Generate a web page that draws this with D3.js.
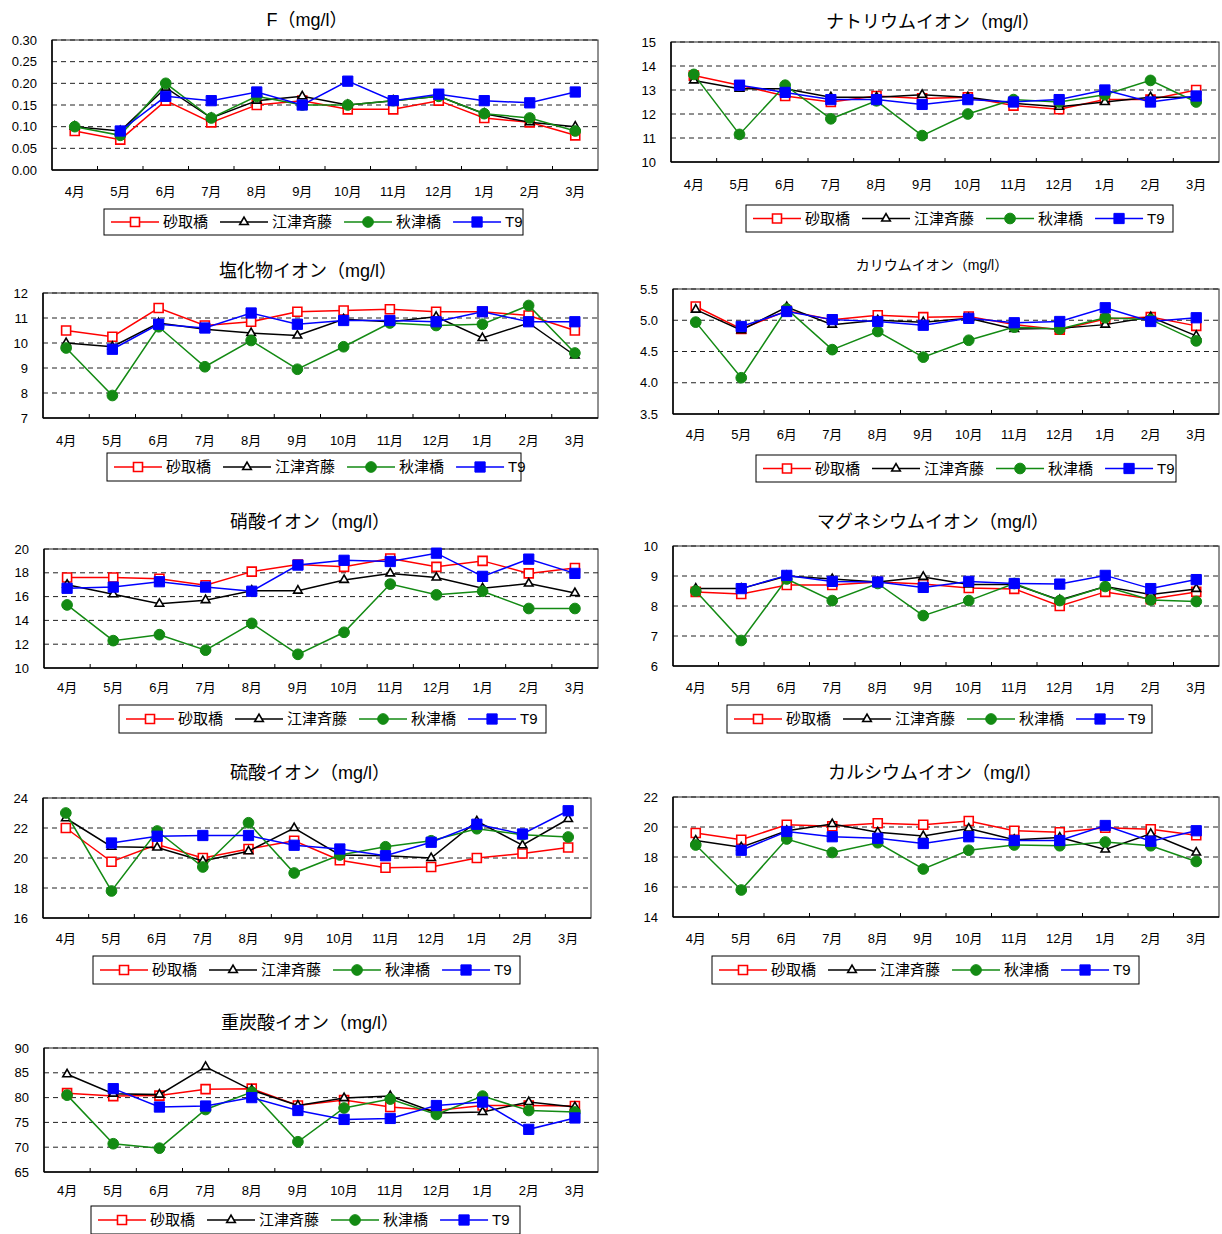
<!DOCTYPE html>
<html>
<head>
<meta charset="utf-8">
<script src="https://cdn.jsdelivr.net/npm/d3@7"></script>
<style>
body { margin: 0; background: #fff; }
text { font-family: "Liberation Sans", "Noto Sans CJK JP", sans-serif; fill: #000; }
</style>
</head>
<body>
<svg></svg>
<script>
let months = ["4月", "5月", "6月", "7月", "8月", "9月", "10月", "11月", "12月", "1月", "2月", "3月"]
let stations = ["砂取橋", "江津斉藤", "秋津橋", "T9"]

// values per panel, rows in station order
let fVals = [
    [0.09, 0.07, 0.16, 0.11, 0.15, 0.16, 0.14, 0.14, 0.16, 0.12, 0.11, 0.08],
    [0.10, 0.09, 0.19, 0.12, 0.16, 0.17, 0.15, 0.16, 0.17, 0.13, 0.11, 0.10],
    [0.10, 0.08, 0.20, 0.12, 0.17, 0.15, 0.15, 0.16, 0.17, 0.13, 0.12, 0.09],
    [null, 0.09, 0.17, 0.16, 0.18, 0.15, 0.205, 0.16, 0.175, 0.16, 0.155, 0.18]
]
let naVals = [
    [13.6, 13.2, 12.75, 12.5, 12.75, 12.65, 12.7, 12.35, 12.2, 12.6, 12.6, 13.0],
    [13.4, 13.05, 13.05, 12.7, 12.7, 12.8, 12.7, 12.45, 12.3, 12.5, 12.7, 12.7],
    [13.65, 11.15, 13.2, 11.8, 12.55, 11.1, 12.0, 12.6, 12.5, 12.8, 13.4, 12.5],
    [null, 13.2, 12.9, 12.6, 12.6, 12.4, 12.6, 12.5, 12.6, 13.0, 12.5, 12.75]
]
let clVals = [
    [10.5, 10.25, 11.4, 10.7, 10.85, 11.25, 11.3, 11.35, 11.25, 11.25, 11.1, 10.5],
    [10.0, 9.85, 10.8, 10.55, 10.4, 10.3, 10.95, 10.85, 11.05, 10.2, 10.8, 9.5],
    [9.8, 7.9, 10.65, 9.05, 10.1, 8.95, 9.85, 10.8, 10.7, 10.75, 11.5, 9.6],
    [null, 9.75, 10.75, 10.6, 11.2, 10.75, 10.9, 10.9, 10.85, 11.25, 10.85, 10.85]
]
let kVals = [
    [5.22, 4.86, 5.15, 5.01, 5.08, 5.05, 5.06, 4.93, 4.85, 5.02, 5.05, 4.91],
    [5.17, 4.84, 5.21, 4.93, 5.0, 4.97, 5.03, 4.86, 4.87, 4.93, 5.05, 4.75],
    [4.97, 4.08, 5.18, 4.53, 4.82, 4.41, 4.68, 4.89, 4.86, 5.04, 5.01, 4.67],
    [null, 4.9, 5.14, 5.01, 4.98, 4.92, 5.03, 4.96, 4.98, 5.2, 4.98, 5.04]
]
let no3Vals = [
    [17.6, 17.6, 17.5, 16.95, 18.1, 18.7, 18.5, 19.2, 18.5, 19.0, 17.95, 18.4],
    [17.0, 16.2, 15.4, 15.7, 16.5, 16.5, 17.4, 17.95, 17.6, 16.7, 17.1, 16.3],
    [15.3, 12.3, 12.8, 11.5, 13.75, 11.15, 13.0, 17.05, 16.15, 16.45, 15.0, 15.0],
    [16.7, 16.8, 17.25, 16.8, 16.45, 18.65, 19.05, 18.95, 19.65, 17.7, 19.15, 17.95]
]
let mgVals = [
    [8.47, 8.4, 8.7, 8.7, 8.8, 8.73, 8.6, 8.57, 8.0, 8.47, 8.23, 8.47],
    [8.58, 8.58, 9.0, 8.9, 8.8, 8.97, 8.72, 8.72, 8.2, 8.65, 8.38, 8.57],
    [8.5, 6.85, 8.9, 8.18, 8.75, 7.68, 8.18, 8.75, 8.18, 8.65, 8.2, 8.15],
    [null, 8.58, 9.02, 8.82, 8.8, 8.62, 8.82, 8.75, 8.73, 9.02, 8.58, 8.88]
]
let so4Vals = [
    [22.0, 19.75, 20.9, 20.0, 20.6, 21.15, 19.85, 19.35, 19.4, 20.0, 20.3, 20.7],
    [22.65, 20.75, 20.7, 19.8, 20.45, 22.0, 20.2, 20.15, 20.0, 22.45, 20.85, 22.6],
    [23.0, 17.8, 21.8, 19.4, 22.35, 19.0, 20.2, 20.75, 21.15, 21.95, 21.55, 21.4],
    [null, 21.0, 21.45, 21.5, 21.5, 20.85, 20.6, 20.15, 21.05, 22.25, 21.6, 23.15]
]
let caVals = [
    [19.6, 19.15, 20.15, 20.05, 20.25, 20.15, 20.4, 19.75, 19.65, 19.95, 19.85, 19.45],
    [19.1, 18.65, 19.75, 20.2, 19.65, 19.4, 19.9, 19.15, 19.3, 18.5, 19.55, 18.3],
    [18.8, 15.8, 19.2, 18.3, 18.95, 17.2, 18.45, 18.8, 18.75, 19.0, 18.75, 17.7],
    [null, 18.45, 19.7, 19.35, 19.25, 18.9, 19.35, 19.1, 19.1, 20.1, 19.05, 19.75]
]
let hco3Vals = [
    [80.9, 80.3, 80.4, 81.7, 81.8, 78.4, 79.5, 78.1, 77.4, 78.4, 78.4, 78.3],
    [84.7, 80.8, 80.6, 86.2, 81.5, 78.4, 79.9, 80.3, 76.9, 77.1, 79.1, 78.1],
    [80.5, 70.7, 69.8, 77.6, 81.1, 71.1, 77.9, 79.7, 76.6, 80.3, 77.4, 77.1],
    [null, 81.8, 78.1, 78.3, 80.0, 77.4, 75.6, 75.8, 78.4, 79.1, 73.6, 75.9]
]

// station look: colour, symbol, filled
let looks = [
    {color: "#ff0000", sym: d3.symbolSquare, size: 81, fill: false},
    {color: "#000000", sym: d3.symbolTriangle, size: 32, fill: false},
    {color: "#138a13", sym: d3.symbolCircle, size: 90, fill: true},
    {color: "#0000ff", sym: d3.symbolSquare, size: 105, fill: true}
]

let panels = [
    {title: "F（mg/l）", vals: fVals, domain: [0, 0.30], step: 0.05, fmt: ".2f",
     box: [52, 40, 598, 170], labelY: 191, tx: 307, ty: 20, ts: 18, legend: [104, 209, 523, 235]},
    {title: "ナトリウムイオン（mg/l）", vals: naVals, domain: [10, 15], step: 1, fmt: "d",
     box: [671, 42, 1219, 162], labelY: 184, tx: 933, ty: 22, ts: 18, legend: [746, 205, 1173, 232]},
    {title: "塩化物イオン（mg/l）", vals: clVals, domain: [7, 12], step: 1, fmt: "d",
     box: [43, 293, 598, 418], labelY: 440, tx: 308, ty: 271, ts: 18, legend: [107, 453, 521, 481]},
    {title: "カリウムイオン（mg/l）", vals: kVals, domain: [3.5, 5.5], step: 0.5, fmt: ".1f",
     box: [673, 289, 1219, 414], labelY: 434, tx: 932, ty: 265, ts: 14, legend: [756, 455, 1176, 482]},
    {title: "硝酸イオン（mg/l）", vals: no3Vals, domain: [10, 20], step: 2, fmt: "d",
     box: [44, 549, 598, 668], labelY: 687, tx: 310, ty: 522, ts: 18, legend: [119, 705, 546, 733]},
    {title: "マグネシウムイオン（mg/l）", vals: mgVals, domain: [6, 10], step: 1, fmt: "d",
     box: [673, 546, 1219, 666], labelY: 687, tx: 933, ty: 522, ts: 18, legend: [727, 705, 1152, 733]},
    {title: "硫酸イオン（mg/l）", vals: so4Vals, domain: [16, 24], step: 2, fmt: "d",
     box: [43, 798, 591, 918], labelY: 938, tx: 310, ty: 773, ts: 18, legend: [93, 956, 520, 984]},
    {title: "カルシウムイオン（mg/l）", vals: caVals, domain: [14, 22], step: 2, fmt: "d",
     box: [673, 797, 1219, 917], labelY: 938, tx: 935, ty: 773, ts: 18, legend: [712, 956, 1139, 984]},
    {title: "重炭酸イオン（mg/l）", vals: hco3Vals, domain: [65, 90], step: 5, fmt: "d",
     box: [44, 1048, 598, 1172], labelY: 1190, tx: 310, ty: 1023, ts: 18, legend: [91, 1206, 520, 1234]}
]

let svg = d3.select('svg').attr('width', 1222).attr('height', 1234)

let drawMarker = (g, k, cx, cy) => {
    let lk = looks[k]
    g.append('path')
     .attr('d', d3.symbol().type(lk.sym).size(lk.size)())
     .attr('transform', `translate(${cx},${cy})`)
     .attr('fill', lk.fill ? lk.color : '#fff')
     .attr('stroke', lk.color)
     .attr('stroke-width', lk.fill ? 1 : 1.6)
}

let drawPanel = (p) => {
    let g = svg.append('g')
    let [x0, y0, x1, y1] = p.box

    let x = d3.scaleBand().domain(months).range([x0, x1])
    let y = d3.scaleLinear().domain(p.domain).range([y1, y0])
    let ticks = d3.range(0, Math.round((p.domain[1] - p.domain[0]) / p.step) + 1)
                  .map(i => p.domain[0] + i * p.step)

    // dashed grid
    g.selectAll('line.grid')
     .data(ticks.slice(1))
     .join('line')
     .attr('x1', x0).attr('x2', x1)
     .attr('y1', d => y(d)).attr('y2', d => y(d))
     .attr('stroke', '#222')
     .attr('stroke-dasharray', '5,4')

    g.append('rect')
     .attr('x', x0).attr('y', y0)
     .attr('width', x1 - x0).attr('height', y1 - y0)
     .attr('fill', 'none').attr('stroke', '#222').attr('stroke-width', 1)

    // left + bottom axis lines
    g.append('line').attr('x1', x0).attr('x2', x0).attr('y1', y0).attr('y2', y1)
     .attr('stroke', '#000').attr('stroke-width', 1.5)
    g.append('line').attr('x1', x0).attr('x2', x1).attr('y1', y1).attr('y2', y1)
     .attr('stroke', '#000').attr('stroke-width', 1.5)

    let yAxis = d3.axisLeft(y).tickValues(ticks).tickFormat(d3.format(p.fmt))
                  .tickSize(0).tickPadding(15)
    let ya = g.append('g').attr('transform', `translate(${x0},0)`).call(yAxis)
    ya.select('.domain').remove()
    ya.selectAll('text').attr('font-size', 13)

    let xAxis = d3.axisBottom(x).tickSize(0)
    let xa = g.append('g').attr('transform', `translate(0,${y1})`).call(xAxis)
    xa.select('.domain').remove()
    xa.selectAll('text').attr('font-size', 13).attr('y', p.labelY - y1).attr('dy', '0.35em')

    // small category-boundary ticks
    g.selectAll('line.ctick')
     .data(months.slice(1))
     .join('line')
     .attr('x1', d => x(d)).attr('x2', d => x(d))
     .attr('y1', y1).attr('y2', y1 - 4)
     .attr('stroke', '#000')

    let cx = (i) => x(months[i]) + x.bandwidth() / 2
    let line = d3.line()
                 .defined(d => d != null)
                 .x((d, i) => cx(i))
                 .y(d => y(d))

    p.vals.forEach((row, k) => {
        g.append('path')
         .attr('d', line(row))
         .attr('fill', 'none')
         .attr('stroke', looks[k].color)
         .attr('stroke-width', 1.5)
        row.forEach((v, i) => {
            if (v != null) drawMarker(g, k, cx(i), y(v))
        })
    })

    g.append('text')
     .attr('x', p.tx).attr('y', p.ty)
     .attr('text-anchor', 'middle').attr('dy', '0.35em')
     .attr('font-size', p.ts)
     .text(p.title)

    // legend
    let [lx0, ly0, lx1, ly1] = p.legend
    g.append('rect')
     .attr('x', lx0).attr('y', ly0)
     .attr('width', lx1 - lx0).attr('height', ly1 - ly0)
     .attr('fill', '#fff').attr('stroke', '#000')
    let ly = (ly0 + ly1) / 2
    let pos = lx0 + 7
    stations.forEach((s, k) => {
        g.append('line')
         .attr('x1', pos).attr('x2', pos + 48)
         .attr('y1', ly).attr('y2', ly)
         .attr('stroke', looks[k].color).attr('stroke-width', 1.5)
        drawMarker(g, k, pos + 24, ly)
        let t = g.append('text')
                 .attr('x', pos + 52).attr('y', ly).attr('dy', '0.35em')
                 .attr('font-size', 15)
                 .text(s)
        pos += 52 + t.node().getComputedTextLength() + 12
    })
}

panels.forEach(drawPanel)
</script>
</body>
</html>
